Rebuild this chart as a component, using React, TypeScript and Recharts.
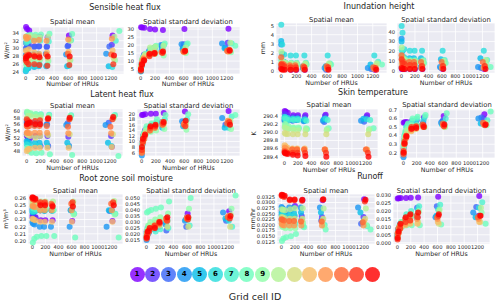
import React from 'react';
import { ScatterChart, Scatter, XAxis, YAxis, CartesianGrid } from 'recharts';

const FONT = '"DejaVu Sans", sans-serif';
const INK = '#262626';

// grid cells and their rainbow colours
const cellIds = [1, 2, 3, 4, 5, 6, 7, 8, 9, 10, 11, 12, 13, 14, 15, 16];
const cellColors = [
  '#8000ff', '#5e35fe', '#3c68f9', '#1a96f3', '#08bde9', '#2bdddd', '#4df3ce', '#6efebd',
  '#91feab', '#b3f396', '#d5dd80', '#f7bd68', '#ff964f', '#ff6835', '#ff351b', '#ff0000',
];

// number of HRUs for each cell at each discretisation level
const hruCounts = [
  [5, 20, 50, 130, 200, 310, 610, 1225],
  [4, 18, 45, 125, 190, 300, 600, 1215],
  [3, 15, 40, 120, 185, 295, 590, 1180],
  [2, 12, 35, 115, 180, 285, 570, 1135],
  [2, 14, 38, 120, 185, 290, 585, 1170],
  [3, 16, 42, 125, 195, 305, 610, 1220],
  [6, 25, 60, 135, 205, 325, 640, 1270],
  [8, 30, 70, 140, 215, 335, 655, 1320],
  [6, 25, 60, 130, 205, 320, 630, 1260],
  [5, 22, 55, 130, 200, 315, 625, 1250],
  [4, 20, 50, 125, 195, 310, 620, 1240],
  [3, 18, 45, 120, 190, 300, 605, 1225],
  [3, 15, 40, 118, 188, 295, 600, 1215],
  [2, 14, 38, 115, 185, 290, 595, 1205],
  [3, 16, 42, 122, 192, 305, 615, 1235],
  [4, 18, 48, 125, 195, 310, 620, 1245],
];
const hruTicks = [0, 200, 400, 600, 800, 1000, 1200];

const sensibleMean = [
  [35.5, 35.0, 34.6, 33.0, 33.0, 32.9, 33.3, 33.3],
  [31.5, 31.2, 31.0, 30.6, 30.6, 30.5, 30.8, 31.0],
  [30.0, 30.3, 30.5, 30.4, 30.5, 30.4, 30.6, 30.5],
  [28.3, 28.5, 28.6, 28.6, 28.7, 28.7, 28.5, 28.7],
  [24.2, 24.8, 25.0, 25.3, 25.5, 25.5, 25.5, 25.5],
  [24.6, 25.2, 25.4, 25.6, 26.0, 25.8, 25.6, 25.3],
  [31.5, 31.8, 32.0, 32.3, 32.0, 31.8, 32.1, 32.0],
  [33.0, 33.3, 33.5, 33.5, 33.6, 33.8, 33.7, 34.5],
  [26.0, 26.5, 26.8, 27.0, 27.2, 26.8, 27.0, 27.0],
  [32.5, 33.0, 33.2, 33.0, 32.8, 33.0, 32.0, 33.0],
  [27.0, 27.3, 27.5, 27.8, 27.5, 27.5, 27.2, 27.5],
  [29.5, 29.3, 29.8, 29.0, 28.7, 29.0, 29.2, 29.5],
  [33.0, 32.5, 32.8, 32.0, 32.2, 32.0, 32.3, 32.5],
  [28.0, 28.3, 28.5, 28.3, 28.2, 28.5, 28.7, 28.5],
  [27.0, 26.5, 26.0, 26.0, 25.8, 25.6, 25.8, 26.0],
  [27.5, 28.0, 28.3, 28.0, 27.8, 28.0, 28.0, 28.2],
];
const sensibleStd = [
  [31.2, 31.0, 30.8, 30.0, 29.8, 29.5, 30.0, 30.2],
  [6, 10, 14, 17, 18, 19.5, 20.5, 21.5],
  [5, 9, 13, 16, 17, 18, 18.5, 18.5],
  [4, 8, 12, 16, 18, 20, 20.5, 21],
  [3.5, 7, 11, 14.5, 16, 16.5, 17.5, 18],
  [5.5, 10, 13, 15, 16.5, 17.5, 17, 17],
  [6, 11, 14, 17, 19, 20, 20.5, 21],
  [7, 12, 14.5, 17.5, 19.5, 21, 21, 19.5],
  [6.5, 11.5, 13, 14, 14.5, 13.5, 15, 15.5],
  [7, 11, 14, 18.5, 19, 19.5, 18.5, 21.5],
  [6, 10, 13, 15, 16, 16.5, 16.5, 17],
  [5, 9, 12, 14, 15, 15.5, 15.5, 16],
  [5.5, 9, 11.5, 14, 15, 15.5, 16, 16],
  [4.5, 8, 11, 14, 14.5, 15.5, 16, 16.5],
  [4, 7.5, 10, 13, 14.5, 15, 16, 17],
  [5, 8, 10.5, 14.5, 15, 16, 16.5, 16.5],
];
const inundationMean = [
  [0.3, 0.2, 0.2, 0.1, 0.1, 0.1, 0.2, 0.1],
  [0.4, 0.3, 0.3, 0.2, 0.2, 0.2, 0.2, 0.2],
  [0.5, 0.4, 0.3, 0.3, 0.2, 0.2, 0.1, 0.2],
  [2.9, 1.0, 0.5, 0.4, 0.4, 0.3, 0.3, 0.3],
  [3.3, 1.9, 1.0, 0.7, 0.7, 0.5, 0.5, 0.7],
  [5.1, 2.9, 1.8, 1.7, 1.7, 1.7, 1.7, 1.7],
  [1.2, 1.0, 0.9, 0.9, 0.9, 0.9, 0.8, 1.0],
  [0.9, 0.8, 0.8, 0.7, 0.7, 0.7, 0.7, 0.7],
  [1.1, 0.9, 0.8, 0.8, 0.7, 0.7, 0.6, 0.8],
  [2.1, 1.0, 0.9, 0.8, 0.8, 0.8, 0.8, 0.8],
  [0.8, 0.6, 0.5, 0.5, 0.4, 0.4, 0.4, 0.5],
  [0.6, 0.4, 0.4, 0.3, 0.3, 0.3, 0.3, 0.3],
  [0.3, 0.2, 0.2, 0.2, 0.2, 0.2, 0.2, 0.2],
  [1.5, 0.8, 0.7, 0.6, 0.6, 0.5, 0.5, 0.4],
  [0.7, 0.6, 0.5, 0.4, 0.4, 0.4, 0.4, 0.3],
  [0.2, 0.1, 0.1, 0.1, 0.1, 0.1, 0.1, 0.1],
];
const inundationStd = [
  [2, 2, 2, 2, 2, 2, 2, 2],
  [3, 3, 3, 3, 3, 3, 3, 3],
  [4, 3.5, 3, 3, 3, 3, 3, 3],
  [33, 14, 6, 5, 5, 4, 4, 4],
  [30, 20, 14, 13, 13, 13, 12, 13],
  [46, 39, 22, 20.5, 20.5, 20.5, 20.5, 20.5],
  [21, 14, 12, 11, 11, 11, 11, 11],
  [15, 11, 10, 9, 9, 8, 8, 4],
  [14, 10, 9, 8, 8, 7, 7, 7],
  [24, 13, 11, 10, 10, 10, 10, 11],
  [10, 6, 5, 5, 5, 5, 5, 5],
  [7, 5, 4, 4, 4, 4, 4, 4],
  [4, 3, 3, 3, 3, 3, 3, 3],
  [16, 10, 9, 9, 9, 9, 9, 9],
  [12, 8, 7, 6, 6, 5, 5, 5],
  [3, 2, 2, 2, 2, 2, 2, 2],
];
const latentMean = [
  [52.5, 52.0, 51.8, 49.5, 49.5, 49.5, 49.5, 49.3],
  [53.0, 52.5, 52.3, 52.5, 52.5, 52.5, 52.3, 52.5],
  [57.0, 56.8, 56.5, 56.7, 56.5, 56.0, 56.3, 56.5],
  [56.5, 56.3, 56.0, 55.8, 56.0, 55.9, 55.8, 55.8],
  [51.0, 50.7, 50.5, 50.5, 50.5, 50.5, 50.5, 50.5],
  [50.0, 49.8, 49.5, 49.8, 49.5, 49.5, 49.5, 49.5],
  [59.5, 59.3, 59.0, 59.0, 59.0, 58.9, 58.7, 58.8],
  [49.0, 48.0, 47.5, 47.3, 47.5, 47.0, 46.8, 46.5],
  [59.8, 59.5, 59.3, 59.0, 58.8, 58.5, 58.5, 58.5],
  [58.0, 58.5, 58.5, 58.2, 58.0, 57.8, 57.7, 57.8],
  [53.0, 52.8, 52.5, 52.0, 52.5, 52.8, 53.0, 53.0],
  [48.0, 48.5, 48.7, 49.0, 49.0, 49.0, 49.0, 49.2],
  [53.5, 53.5, 53.3, 53.5, 53.5, 53.5, 53.3, 53.3],
  [55.5, 55.3, 55.5, 55.5, 55.5, 55.5, 55.3, 55.3],
  [57.5, 57.0, 56.8, 57.0, 57.2, 57.5, 57.5, 57.5],
  [56.0, 56.3, 56.5, 56.0, 56.0, 57.8, 58.0, 58.2],
];
const latentStd = [
  [19.5, 19.6, 19.8, 20.0, 20.0, 20.3, 20.8, 21.0],
  [8, 12, 14, 15.5, 16, 16.5, 17, 17],
  [6, 10, 13, 14, 15, 16, 16.5, 16],
  [5, 9, 12, 15, 16, 17, 17.3, 18.5],
  [6.5, 10, 13, 14, 15, 15, 15.5, 15],
  [7, 11, 13, 14.5, 15.5, 16.5, 16.5, 15],
  [8, 12, 14.5, 16, 17, 18, 18, 19],
  [9, 13, 15.5, 16.5, 18, 19.5, 19.8, 19.5],
  [7, 10.5, 12.5, 13.5, 14, 14.5, 14.2, 14.5],
  [8, 12, 14, 15, 16, 17, 16.5, 17.5],
  [7, 11, 13, 14.5, 15.5, 16, 16, 16.5],
  [6, 10, 12.5, 14, 15, 16, 16.5, 17.5],
  [6.5, 10, 12, 14.5, 15.5, 17, 16.5, 17.5],
  [6, 9.5, 11, 14, 15, 16, 16, 16.5],
  [7, 10, 12, 15, 15.5, 16.5, 15.5, 17],
  [8, 11, 12.5, 15.5, 16, 17, 17.5, 16],
];
const skinMean = [
  [290.52, 290.5, 290.48, 290.42, 290.42, 290.42, 290.43, 290.42],
  [290.45, 290.42, 290.4, 290.38, 290.38, 290.38, 290.4, 290.38],
  [290.3, 290.3, 290.29, 290.28, 290.3, 290.28, 290.25, 290.26],
  [290.28, 290.27, 290.26, 290.3, 290.3, 290.27, 290.28, 290.28],
  [290.35, 290.33, 290.32, 290.32, 290.32, 290.3, 290.32, 290.33],
  [290.38, 290.36, 290.35, 290.34, 290.34, 290.32, 290.34, 290.32],
  [290.34, 290.32, 290.3, 290.3, 290.3, 290.28, 290.3, 290.3],
  [290.15, 290.12, 290.1, 290.1, 290.1, 290.08, 290.1, 290.1],
  [290.2, 290.18, 290.15, 290.12, 290.12, 290.1, 290.08, 290.08],
  [290.12, 290.1, 290.08, 290.06, 290.05, 290.05, 290.05, 290.05],
  [289.98, 289.96, 289.96, 289.95, 289.95, 289.95, 289.95, 289.95],
  [289.68, 289.65, 289.62, 289.6, 289.6, 289.6, 289.58, 289.58],
  [289.62, 289.6, 289.58, 289.58, 289.58, 289.58, 289.58, 289.58],
  [289.55, 289.52, 289.5, 289.58, 289.58, 289.58, 289.58, 289.58],
  [289.52, 289.5, 289.5, 289.5, 289.5, 289.5, 289.5, 289.5],
  [289.5, 289.48, 289.47, 289.45, 289.43, 289.42, 289.4, 289.4],
];
const skinStd = [
  [0.55, 0.555, 0.56, 0.57, 0.58, 0.61, 0.63, 0.65],
  [0.25, 0.36, 0.45, 0.5, 0.52, 0.55, 0.57, 0.6],
  [0.18, 0.3, 0.4, 0.48, 0.5, 0.53, 0.57, 0.61],
  [0.15, 0.28, 0.38, 0.47, 0.49, 0.52, 0.55, 0.6],
  [0.2, 0.32, 0.42, 0.5, 0.52, 0.53, 0.53, 0.54],
  [0.28, 0.4, 0.5, 0.55, 0.57, 0.58, 0.55, 0.53],
  [0.3, 0.42, 0.52, 0.58, 0.6, 0.62, 0.6, 0.58],
  [0.35, 0.45, 0.54, 0.6, 0.62, 0.64, 0.66, 0.68],
  [0.3, 0.4, 0.48, 0.52, 0.52, 0.5, 0.5, 0.52],
  [0.26, 0.38, 0.46, 0.5, 0.5, 0.5, 0.52, 0.55],
  [0.22, 0.35, 0.42, 0.46, 0.48, 0.5, 0.5, 0.53],
  [0.2, 0.32, 0.4, 0.45, 0.48, 0.5, 0.52, 0.54],
  [0.2, 0.3, 0.38, 0.47, 0.5, 0.51, 0.52, 0.53],
  [0.18, 0.3, 0.37, 0.48, 0.5, 0.53, 0.54, 0.55],
  [0.22, 0.33, 0.4, 0.5, 0.51, 0.52, 0.51, 0.52],
  [0.2, 0.31, 0.39, 0.48, 0.49, 0.5, 0.53, 0.53],
];
const soilMean = [
  [0.236, 0.234, 0.233, 0.229, 0.229, 0.229, 0.228, 0.228],
  [0.233, 0.232, 0.232, 0.243, 0.243, 0.243, 0.243, 0.243],
  [0.244, 0.243, 0.243, 0.243, 0.243, 0.243, 0.243, 0.242],
  [0.226, 0.224, 0.223, 0.22, 0.22, 0.22, 0.22, 0.22],
  [0.24, 0.24, 0.241, 0.243, 0.242, 0.243, 0.243, 0.243],
  [0.242, 0.242, 0.242, 0.243, 0.243, 0.242, 0.242, 0.241],
  [0.246, 0.245, 0.244, 0.244, 0.244, 0.243, 0.238, 0.238],
  [0.198, 0.203, 0.206, 0.207, 0.207, 0.207, 0.205, 0.205],
  [0.25, 0.248, 0.247, 0.245, 0.246, 0.244, 0.237, 0.237],
  [0.256, 0.256, 0.255, 0.255, 0.255, 0.255, 0.255, 0.256],
  [0.252, 0.252, 0.251, 0.25, 0.25, 0.249, 0.25, 0.251],
  [0.231, 0.23, 0.229, 0.227, 0.227, 0.227, 0.227, 0.227],
  [0.249, 0.248, 0.247, 0.243, 0.243, 0.243, 0.243, 0.243],
  [0.259, 0.258, 0.257, 0.252, 0.252, 0.252, 0.252, 0.252],
  [0.26, 0.259, 0.258, 0.254, 0.254, 0.25, 0.254, 0.254],
  [0.261, 0.26, 0.259, 0.25, 0.25, 0.248, 0.248, 0.25],
];
const soilStd = [
  [0.022, 0.024, 0.025, 0.028, 0.029, 0.031, 0.037, 0.039],
  [0.02, 0.023, 0.025, 0.027, 0.029, 0.033, 0.034, 0.033],
  [0.016, 0.02, 0.022, 0.024, 0.026, 0.023, 0.026, 0.031],
  [0.015, 0.019, 0.021, 0.025, 0.027, 0.028, 0.031, 0.038],
  [0.018, 0.021, 0.024, 0.026, 0.028, 0.03, 0.032, 0.033],
  [0.021, 0.025, 0.027, 0.029, 0.031, 0.032, 0.032, 0.031],
  [0.019, 0.022, 0.024, 0.022, 0.024, 0.025, 0.027, 0.026],
  [0.038, 0.039, 0.04, 0.041, 0.042, 0.047, 0.05, 0.052],
  [0.023, 0.027, 0.03, 0.032, 0.034, 0.037, 0.041, 0.041],
  [0.02, 0.024, 0.027, 0.029, 0.031, 0.031, 0.033, 0.036],
  [0.019, 0.022, 0.025, 0.026, 0.027, 0.026, 0.026, 0.026],
  [0.018, 0.021, 0.024, 0.027, 0.029, 0.031, 0.033, 0.034],
  [0.017, 0.02, 0.023, 0.025, 0.028, 0.032, 0.034, 0.035],
  [0.016, 0.019, 0.022, 0.026, 0.03, 0.033, 0.033, 0.034],
  [0.018, 0.021, 0.023, 0.027, 0.029, 0.031, 0.032, 0.033],
  [0.017, 0.022, 0.025, 0.025, 0.03, 0.034, 0.034, 0.035],
];
const runoffMean = [
  [0.0265, 0.026, 0.0255, 0.027, 0.0285, 0.031, 0.031, 0.0315],
  [0.0245, 0.024, 0.0235, 0.0238, 0.024, 0.024, 0.0235, 0.0235],
  [0.0225, 0.022, 0.0218, 0.022, 0.022, 0.0222, 0.022, 0.0205],
  [0.028, 0.0275, 0.027, 0.0278, 0.0278, 0.0278, 0.0278, 0.0278],
  [0.0255, 0.025, 0.025, 0.0252, 0.0253, 0.0255, 0.0255, 0.0255],
  [0.0245, 0.0242, 0.024, 0.024, 0.0242, 0.0223, 0.0223, 0.022],
  [0.0215, 0.021, 0.0207, 0.0207, 0.0205, 0.0195, 0.02, 0.0195],
  [0.0128, 0.014, 0.0145, 0.015, 0.016, 0.019, 0.018, 0.018],
  [0.0195, 0.019, 0.0185, 0.0185, 0.0185, 0.021, 0.0195, 0.02],
  [0.027, 0.0268, 0.0265, 0.027, 0.0275, 0.0275, 0.0273, 0.0273],
  [0.0235, 0.0232, 0.023, 0.0228, 0.0228, 0.0228, 0.0228, 0.0228],
  [0.022, 0.0218, 0.0215, 0.0215, 0.0215, 0.0215, 0.0215, 0.0218],
  [0.0205, 0.02, 0.0198, 0.0198, 0.0198, 0.0198, 0.0198, 0.0198],
  [0.0225, 0.0223, 0.022, 0.0218, 0.0218, 0.0215, 0.0215, 0.0212],
  [0.033, 0.0328, 0.0325, 0.031, 0.031, 0.0308, 0.0312, 0.0305],
  [0.0335, 0.0333, 0.033, 0.0313, 0.0313, 0.0312, 0.0315, 0.0312],
];
const runoffStd = [
  [0.0278, 0.028, 0.0282, 0.0282, 0.0283, 0.0285, 0.029, 0.0295],
  [0.005, 0.009, 0.012, 0.015, 0.016, 0.016, 0.0165, 0.017],
  [0.004, 0.008, 0.011, 0.014, 0.017, 0.022, 0.023, 0.0225],
  [0.003, 0.007, 0.01, 0.013, 0.015, 0.016, 0.016, 0.019],
  [0.004, 0.008, 0.011, 0.014, 0.016, 0.017, 0.017, 0.016],
  [0.005, 0.009, 0.012, 0.016, 0.018, 0.021, 0.021, 0.022],
  [0.006, 0.01, 0.013, 0.018, 0.02, 0.023, 0.024, 0.0255],
  [0.005, 0.008, 0.01, 0.011, 0.011, 0.011, 0.0115, 0.012],
  [0.006, 0.01, 0.013, 0.016, 0.018, 0.02, 0.021, 0.019],
  [0.005, 0.009, 0.012, 0.014, 0.016, 0.019, 0.02, 0.022],
  [0.004, 0.008, 0.01, 0.012, 0.013, 0.013, 0.012, 0.013],
  [0.003, 0.006, 0.009, 0.011, 0.012, 0.012, 0.013, 0.013],
  [0.004, 0.007, 0.01, 0.012, 0.014, 0.015, 0.015, 0.015],
  [0.006, 0.009, 0.011, 0.015, 0.017, 0.017, 0.016, 0.016],
  [0.002, 0.006, 0.009, 0.013, 0.014, 0.016, 0.017, 0.017],
  [0.003, 0.007, 0.012, 0.016, 0.018, 0.019, 0.018, 0.017],
];

const figTitles = [
  { text: 'Sensible heat flux', x: 125, y: 7.5 },
  { text: 'Inundation height', x: 379, y: 7 },
  { text: 'Latent heat flux', x: 122, y: 95 },
  { text: 'Skin temperature', x: 373, y: 92.5 },
  { text: 'Root zone soil moisture', x: 126, y: 179 },
  { text: 'Runoff', x: 370, y: 177 },
];

type PanelSpec = {
  values: number[][];
  title: string;
  titleY: number;
  left: number;
  right: number;
  top: number;
  bottom: number;
  yWidth: number;
  domain: [number, number];
  ticks: number[];
  digits: number;
  ylabel?: string;
  ylabelX?: number;
  tickMargin: number;
  xHeight: number;
};

const panels: PanelSpec[] = [
  { values: sensibleMean, title: 'Spatial mean', titleY: 22, left: 21, right: 124, top: 27, bottom: 74, yWidth: 21, domain: [23.5, 35.25], ticks: [24, 26, 28, 30, 32, 34], digits: 0, ylabel: 'W/m²', ylabelX: 7, tickMargin: 2, xHeight: 12 },
  { values: sensibleStd, title: 'Spatial standard deviation', titleY: 22, left: 136, right: 240, top: 27, bottom: 74, yWidth: 14, domain: [1.9, 31.3], ticks: [5, 10, 15, 20, 25, 30], digits: 0, tickMargin: 2, xHeight: 12 },
  { values: inundationMean, title: 'Spatial mean', titleY: 20, left: 276, right: 387, top: 23, bottom: 73, yWidth: 26, domain: [-0.25, 5.3], ticks: [0, 1, 2, 3, 4, 5], digits: 0, ylabel: 'mm', ylabelX: 13, tickMargin: 1.5, xHeight: 12 },
  { values: inundationStd, title: 'Spatial standard deviation', titleY: 20, left: 397, right: 495, top: 23, bottom: 73, yWidth: 14, domain: [-2.2, 49], ticks: [0, 10, 20, 30, 40], digits: 0, tickMargin: 1.5, xHeight: 12 },
  { values: latentMean, title: 'Spatial mean', titleY: 105.5, left: 22, right: 123, top: 109, bottom: 156, yWidth: 22, domain: [46.8, 60.6], ticks: [48, 50, 52, 54, 56, 58, 60], digits: 0, ylabel: 'W/m²', ylabelX: 8, tickMargin: 3, xHeight: 14 },
  { values: latentStd, title: 'Spatial standard deviation', titleY: 105.5, left: 137, right: 240, top: 109, bottom: 156, yWidth: 14, domain: [4.8, 21.7], ticks: [6, 8, 10, 12, 14, 16, 18, 20], digits: 0, tickMargin: 3, xHeight: 14 },
  { values: skinMean, title: 'Spatial mean', titleY: 105, left: 280, right: 378, top: 109, bottom: 158, yWidth: 30, domain: [289.37, 290.57], ticks: [289.4, 289.6, 289.8, 290.0, 290.2, 290.4], digits: 1, ylabel: 'K', ylabelX: 4, tickMargin: 3, xHeight: 14 },
  { values: skinStd, title: 'Spatial standard deviation', titleY: 105, left: 399, right: 495, top: 109, bottom: 158, yWidth: 14, domain: [0.14, 0.71], ticks: [0.2, 0.3, 0.4, 0.5, 0.6, 0.7], digits: 1, tickMargin: 3, xHeight: 14 },
  { values: soilMean, title: 'Spatial mean', titleY: 191, left: 28, right: 123, top: 194, bottom: 244, yWidth: 28, domain: [0.1958, 0.2656], ticks: [0.2, 0.21, 0.22, 0.23, 0.24, 0.25, 0.26], digits: 2, ylabel: 'm³/m³', ylabelX: 6, tickMargin: 1, xHeight: 12 },
  { values: soilStd, title: 'Spatial standard deviation', titleY: 191, left: 142, right: 240, top: 194, bottom: 244, yWidth: 18, domain: [0.0117, 0.0533], ticks: [0.015, 0.02, 0.025, 0.03, 0.035, 0.04, 0.045, 0.05], digits: 3, tickMargin: 1, xHeight: 12 },
  { values: runoffMean, title: 'Spatial mean', titleY: 191, left: 277, right: 375, top: 194, bottom: 244, yWidth: 27, domain: [0.0115, 0.0338], ticks: [0.0125, 0.015, 0.0175, 0.02, 0.0225, 0.025, 0.0275, 0.03, 0.0325], digits: 4, ylabel: 'mm/hr', ylabelX: 3, tickMargin: 1, xHeight: 12 },
  { values: runoffStd, title: 'Spatial standard deviation', titleY: 191, left: 393, right: 490, top: 194, bottom: 244, yWidth: 18, domain: [-0.0008, 0.0307], ticks: [0, 0.005, 0.01, 0.015, 0.02, 0.025, 0.03], digits: 3, tickMargin: 1, xHeight: 12 },
];

const PAD = 5; // room above each plot so the top tick label is not clipped
const tickStyle = { fontSize: 5.2, fill: INK, fontFamily: FONT };
const labelStyle = { fontSize: 6.3, fill: INK, fontFamily: FONT };

function Panel({ spec }: { spec: PanelSpec }) {
  const w = spec.right - spec.left;
  const h = spec.bottom - spec.top;
  return (
    <>
      <div
        style={{
          position: 'absolute',
          left: (spec.left + spec.right) / 2,
          top: spec.titleY,
          transform: 'translate(-50%, -50%)',
          fontSize: 6.8,
          lineHeight: 1,
          whiteSpace: 'nowrap',
        }}
      >
        {spec.title}
      </div>
      <div style={{ position: 'absolute', left: spec.left - spec.yWidth, top: spec.top - PAD }}>
        <ScatterChart
          width={w + spec.yWidth}
          height={h + spec.xHeight + PAD}
          margin={{ top: PAD, right: 0, bottom: 0, left: 0 }}
        >
          <CartesianGrid stroke="#ffffff" strokeWidth={0.8} fill="#eaeaf2" />
          <XAxis
            type="number"
            dataKey="x"
            domain={[-66, 1386]}
            ticks={hruTicks}
            interval={0}
            tick={tickStyle}
            tickLine={false}
            axisLine={false}
            tickSize={0}
            tickMargin={spec.tickMargin}
            height={spec.xHeight}
            label={{ value: 'Number of HRUs', position: 'insideBottom', offset: 0, style: labelStyle }}
          />
          <YAxis
            type="number"
            dataKey="y"
            domain={spec.domain}
            ticks={spec.ticks}
            interval={0}
            width={spec.yWidth}
            tick={tickStyle}
            tickLine={false}
            axisLine={false}
            tickSize={0}
            tickMargin={2}
            tickFormatter={(v: number) => v.toFixed(spec.digits)}
            label={
              spec.ylabel
                ? {
                    value: spec.ylabel,
                    angle: -90,
                    position: 'insideLeft',
                    offset: spec.ylabelX,
                    style: { ...labelStyle, textAnchor: 'middle' },
                  }
                : undefined
            }
          />
          {spec.values.map((row, i) => (
            <Scatter
              key={cellIds[i]}
              name={String(cellIds[i])}
              data={row.map((y, j) => ({ x: hruCounts[i][j], y }))}
              isAnimationActive={false}
              shape={(p: any) => (
                <circle cx={p.cx} cy={p.cy} r={3} fill={cellColors[i]} fillOpacity={0.8} />
              )}
            />
          ))}
        </ScatterChart>
      </div>
    </>
  );
}

export default function App() {
  return (
    <div
      style={{
        position: 'absolute',
        left: 0,
        top: 0,
        width: 500,
        height: 306,
        background: '#ffffff',
        fontFamily: FONT,
        color: INK,
        overflow: 'hidden',
      }}
    >
      {figTitles.map((t) => (
        <div
          key={t.text}
          style={{
            position: 'absolute',
            left: t.x,
            top: t.y,
            transform: 'translate(-50%, -50%)',
            fontSize: 8,
            lineHeight: 1,
            whiteSpace: 'nowrap',
          }}
        >
          {t.text}
        </div>
      ))}
      {panels.map((p, k) => (
        <Panel key={k} spec={p} />
      ))}
      {cellIds.map((id, i) => (
        <div
          key={id}
          style={{
            position: 'absolute',
            left: 137 + i * 15.7 - 7.5,
            top: 274 - 7.5,
            width: 15,
            height: 15,
            borderRadius: '50%',
            background: cellColors[i] + 'd0',
            display: 'flex',
            alignItems: 'center',
            justifyContent: 'center',
            fontSize: 7,
            fontWeight: 'bold',
            color: '#000000',
            lineHeight: 1,
          }}
        >
          {id <= 9 ? id : ''}
        </div>
      ))}
      <div
        style={{
          position: 'absolute',
          left: 255,
          top: 297,
          transform: 'translate(-50%, -50%)',
          fontSize: 9.5,
          lineHeight: 1,
          whiteSpace: 'nowrap',
        }}
      >
        Grid cell ID
      </div>
    </div>
  );
}
